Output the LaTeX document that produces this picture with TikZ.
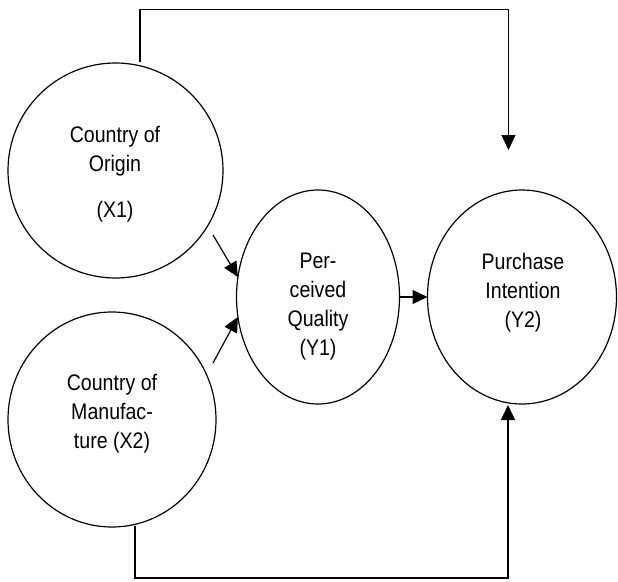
\documentclass[tikz,border=0pt]{standalone}
\usepackage{fontspec}
\setmainfont{Liberation Sans}[FakeStretch=0.87]
\usetikzlibrary{shapes.geometric,arrows.meta}
\begin{document}
\begin{tikzpicture}[x=1pt,y=-1pt,line width=1.2pt,
  var/.style={draw,ellipse,inner sep=0pt,outer sep=0pt},
  lbl/.style={align=center,font=\fontsize{22.5}{29}\selectfont,inner sep=0pt},
  arr/.style={-{Triangle[length=15pt,width=14pt]}}]
\useasboundingbox (0,0) rectangle (618,581);
% variables
\node[var,minimum width=215pt,minimum height=215pt] (x1) at (115.5,170.5) {};
\node[var,minimum width=208pt,minimum height=215pt] (x2) at (112,419.5) {};
\node[var,minimum width=163pt,minimum height=214pt] (y1) at (318,297) {};
\node[var,minimum width=189pt,minimum height=214pt] (y2) at (522,297) {};
% labels
\node[lbl] (tx1) at (115,174) {Country of\\Origin\\[17pt](X1)};
\node[lbl] (tx2) at (112,413.5) {Country of\\Manufac-\\ture (X2)};
\node[lbl] (ty1) at (318,306.5) {Per-\\ceived\\Quality\\(Y1)};
\node[lbl] (ty2) at (523,293) {Purchase\\Intention\\(Y2)};
% connector points
\coordinate (t1) at (140,62);
\coordinate (t2) at (508.5,9.5);
\coordinate (t3) at (508.5,150);
\coordinate (b1) at (135,526);
\coordinate (b2) at (508,578);
\coordinate (b3) at (508,405);
\coordinate (a1) at (213,235);
\coordinate (a2) at (213,363);
% connectors
\draw[arr] (t1) |- (t2) -- (t3);
\draw[arr] (b1) |- (b2) -- (b3);
\draw[arr] (a1) -- (y1.166);
\draw[arr] (a2) -- (y1.194);
\draw[arr] (y1.east) -- (y2.west);
\end{tikzpicture}
\end{document}
